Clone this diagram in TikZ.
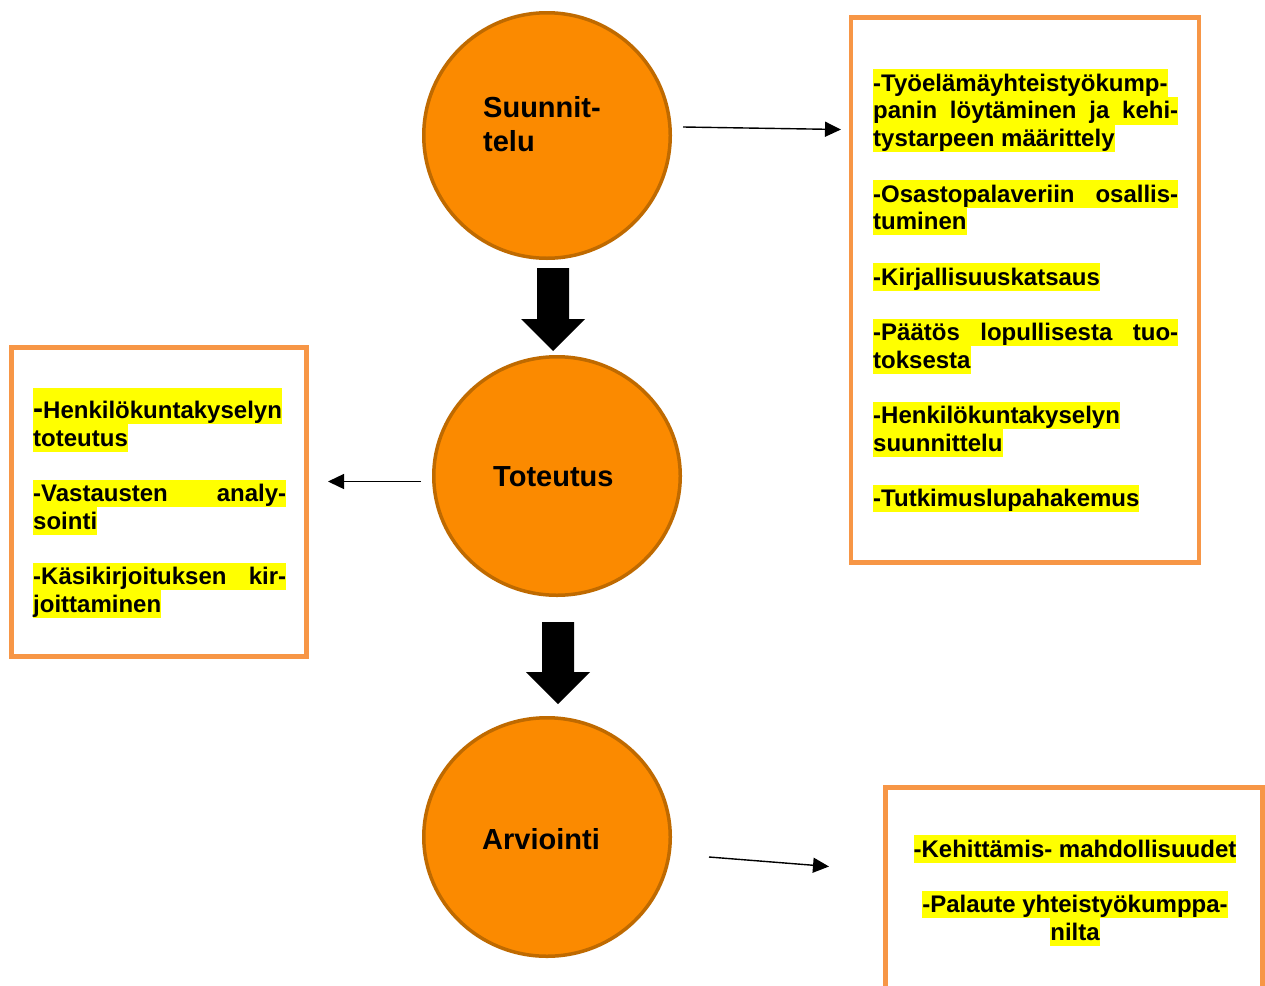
\documentclass[tikz,border=0pt]{standalone}
\usepackage{fontspec}
\setmainfont{Liberation Sans}
\usetikzlibrary{arrows.meta,shapes.geometric}
\definecolor{circfill}{HTML}{FB8A00}
\definecolor{circline}{HTML}{BF6A00}
\definecolor{boxline}{HTML}{F79646}
\definecolor{hlyellow}{HTML}{FFFF00}
\tikzset{
  phase/.style={ellipse, draw=circline, fill=circfill, line width=3.5pt, inner sep=0pt},
  phasetxt/.style={font=\fontsize{29}{33}\selectfont\bfseries, inner sep=0pt, anchor=base west},
  infobox/.style={draw=boxline, line width=4.5pt, inner sep=0pt},
  hl/.style={font=\fontsize{24}{27.7}\selectfont\bfseries, fill=hlyellow, inner sep=0pt,
             text height=22pt, text depth=5.7pt, anchor=north west},
  thinarrow/.style={draw=black, line width=1.4pt, -{Triangle[length=16pt,width=15pt]}},
  blockarrow/.style={fill=black}
}
\begin{document}
\begin{tikzpicture}[x=1pt,y=-1pt]
\useasboundingbox (0,0) rectangle (1265,985);
\fill[white] (0,0) rectangle (1265,985);

% boxes
\node[infobox, minimum width=348pt, minimum height=545pt] (rb) at (1025,290) {};
\node[infobox, minimum width=295pt, minimum height=309pt] (lb) at (159,502) {};
\node[infobox, minimum width=377pt, minimum height=222.5pt] (bb) at (1074,898.75) {};

% right box text
\node[hl] (r1) at (873,69) {-Työelämäyhteistyökump-};
\node[hl] (r2) at (873,96.7) {\makebox[305pt][s]{panin löytäminen ja kehi-}};
\node[hl] (r3) at (873,124.4) {tystarpeen määrittely};
\node[hl] (r4) at (873,179.8) {\makebox[305pt][s]{-Osastopalaveriin osallis-}};
\node[hl] (r5) at (873,207.5) {tuminen};
\node[hl] (r6) at (873,262.9) {-Kirjallisuuskatsaus};
\node[hl] (r7) at (873,318.3) {\makebox[305pt][s]{-Päätös lopullisesta tuo-}};
\node[hl] (r8) at (873,346) {toksesta};
\node[hl] (r9) at (873,401.4) {-Henkilökuntakyselyn};
\node[hl] (r10) at (873,429.1) {suunnittelu};
\node[hl] (r11) at (873,484.5) {-Tutkimuslupahakemus};

% left box text
\node[hl, text height=30pt, text depth=6pt] (l1) at (33,388) {{\fontsize{30}{30}\selectfont -}Henkilökuntakyselyn};
\node[hl] (l2) at (33,424) {toteutus};
\node[hl] (l3) at (33,479.4) {\makebox[253pt][s]{-Vastausten analy-}};
\node[hl] (l4) at (33,507.1) {sointi};
\node[hl] (l5) at (33,562.5) {\makebox[253pt][s]{-Käsikirjoituksen kir-}};
\node[hl] (l6) at (33,590.2) {joittaminen};

% bottom box text
\node[hl, anchor=north] (b1) at (1075,835) {-Kehittämis- mahdollisuudet};
\node[hl, anchor=north] (b2) at (1075,890.4) {-Palaute yhteistyökumppa-};
\node[hl, anchor=north] (b3) at (1075,918.1) {nilta};

% circles
\node[phase, minimum width=246.5pt, minimum height=245.5pt] (s) at (547,135.5) {};
\node[phase, minimum width=246.5pt, minimum height=238.5pt] (t) at (557,476) {};
\node[phase, minimum width=246.5pt, minimum height=238.5pt] (a) at (547,837) {};

\node[phasetxt] (st1) at (483,117.5) {Suunnit-};
\node[phasetxt] (st2) at (483,151.5) {telu};
\node[phasetxt] (tt) at (493,486.7) {Toteutus};
\node[phasetxt] (at) at (482,849.3) {Arviointi};

% thin arrows
\coordinate (a1s) at (683,127);
\coordinate (a1e) at (841,129.5);
\coordinate (a2s) at (421,481.5);
\coordinate (a2e) at (328,481.5);
\coordinate (a3s) at (709,857);
\coordinate (a3e) at (829,866.5);
\draw[thinarrow] (a1s) -- (a1e);
\draw[thinarrow] (a2s) -- (a2e);
\draw[thinarrow] (a3s) -- (a3e);

% block arrows
\fill[blockarrow] (537,268) -- (569,268) -- (569,319) -- (585,319) -- (553,351) -- (521,319) -- (537,319) -- cycle;
\fill[blockarrow] (542,622) -- (574,622) -- (574,672) -- (590,672) -- (558,704) -- (526,672) -- (542,672) -- cycle;
\end{tikzpicture}
\end{document}
